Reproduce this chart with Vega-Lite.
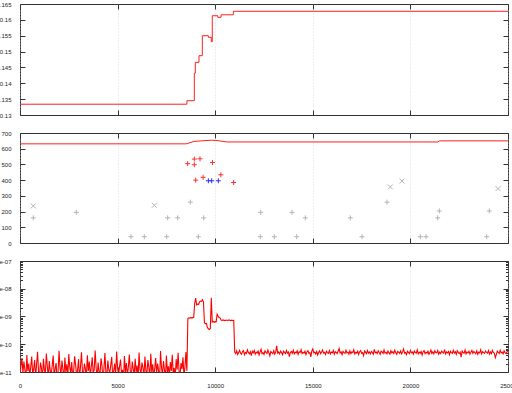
{
"$schema": "https://vega.github.io/schema/vega-lite/v6.json",
"padding": {"left": -5, "top": 0, "right": 0, "bottom": 0},
"background": "white",
"spacing": 10,
"config": {
  "view": {"stroke": "#333", "strokeWidth": 1},
  "axis": {"labelFont": "Liberation Sans", "labelFontSize": 6, "labelColor": "#222", "domain": false, "tickColor": "#333", "tickWidth": 1, "title": null, "labelOverlap": false, "labelFlush": false, "grid": false}
},
"datasets": {
  "p1": [
    {"x":0,"y":0.1334},{"x":8550,"y":0.1345},{"x":8930,"y":0.1432},{"x":8980,"y":0.1466},{"x":9170,"y":0.1487},{"x":9340,"y":0.1550},{"x":9650,"y":0.1545},{"x":9800,"y":0.1531},{"x":9850,"y":0.1613},{"x":10130,"y":0.1608},{"x":10300,"y":0.1616},{"x":10930,"y":0.1627},{"x":25000,"y":0.1627}
  ],
  "p2": [
    {"x":0,"y":631},{"x":8500,"y":631},{"x":8600,"y":634},{"x":8900,"y":646},{"x":9300,"y":650},{"x":9800,"y":654},{"x":10100,"y":652},{"x":10600,"y":643},{"x":21400,"y":643},{"x":21500,"y":650},{"x":25000,"y":650}
  ],
  "pts": [
    {"x":681,"y":160,"k":"g+"},{"x":2885,"y":195,"k":"g+"},{"x":5686,"y":40,"k":"g+"},{"x":6369,"y":40,"k":"g+"},{"x":7514,"y":40,"k":"g+"},{"x":7566,"y":160,"k":"g+"},{"x":8078,"y":160,"k":"g+"},{"x":8725,"y":260,"k":"g+"},{"x":9135,"y":40,"k":"g+"},{"x":9410,"y":160,"k":"g+"},{"x":12310,"y":40,"k":"g+"},{"x":12330,"y":195,"k":"g+"},{"x":13028,"y":40,"k":"g+"},{"x":13934,"y":195,"k":"g+"},{"x":14174,"y":40,"k":"g+"},{"x":14616,"y":160,"k":"g+"},{"x":16921,"y":160,"k":"g+"},{"x":17520,"y":40,"k":"g+"},{"x":18801,"y":260,"k":"g+"},{"x":20508,"y":40,"k":"g+"},{"x":20799,"y":40,"k":"g+"},{"x":21397,"y":160,"k":"g+"},{"x":21480,"y":204,"k":"g+"},{"x":23908,"y":40,"k":"g+"},{"x":24042,"y":204,"k":"g+"},
    {"x":681,"y":236,"k":"gx"},{"x":6880,"y":240,"k":"gx"},{"x":18972,"y":357,"k":"gx"},{"x":19570,"y":395,"k":"gx"},{"x":24488,"y":346,"k":"gx"},
    {"x":8590,"y":505,"k":"r"},{"x":8930,"y":534,"k":"r"},{"x":8930,"y":498,"k":"r"},{"x":9220,"y":536,"k":"r"},{"x":9000,"y":400,"k":"r"},{"x":9380,"y":418,"k":"r"},{"x":9860,"y":512,"k":"r"},{"x":10290,"y":434,"k":"r"},{"x":10945,"y":385,"k":"r"},
    {"x":9650,"y":396,"k":"b"},{"x":9820,"y":396,"k":"b"},{"x":10160,"y":396,"k":"b"}
  ],
  "p3": [
    {"x":0,"y":0.6e-11},{"x":50,"y":1.8e-11},{"x":100,"y":3.2e-11},{"x":150,"y":0.9e-11},{"x":200,"y":2.4e-11},{"x":250,"y":1.2e-11},{"x":300,"y":0.5e-11},{"x":350,"y":4.1e-11},{"x":400,"y":1.1e-11},{"x":450,"y":2.0e-11},
    {"x":500,"y":0.7e-11},{"x":550,"y":1.5e-11},{"x":600,"y":3.6e-11},{"x":650,"y":0.8e-11},{"x":700,"y":1.3e-11},{"x":750,"y":2.7e-11},{"x":800,"y":0.6e-11},{"x":850,"y":1.9e-11},{"x":900,"y":5.3e-11},{"x":950,"y":1.0e-11},
    {"x":1000,"y":0.7e-11},{"x":1050,"y":2.2e-11},{"x":1100,"y":1.4e-11},{"x":1150,"y":0.5e-11},{"x":1200,"y":3.0e-11},{"x":1250,"y":1.2e-11},{"x":1300,"y":0.9e-11},{"x":1350,"y":4.6e-11},{"x":1400,"y":1.6e-11},{"x":1450,"y":0.6e-11},
    {"x":1500,"y":2.5e-11},{"x":1550,"y":1.1e-11},{"x":1600,"y":0.8e-11},{"x":1650,"y":1.7e-11},{"x":1700,"y":3.9e-11},{"x":1750,"y":0.7e-11},{"x":1800,"y":1.3e-11},{"x":1850,"y":2.1e-11},{"x":1900,"y":0.5e-11},{"x":1950,"y":1.0e-11},
    {"x":2000,"y":5.8e-11},{"x":2050,"y":1.4e-11},{"x":2100,"y":0.8e-11},{"x":2150,"y":2.6e-11},{"x":2200,"y":1.2e-11},{"x":2250,"y":0.6e-11},{"x":2300,"y":3.3e-11},{"x":2350,"y":1.0e-11},{"x":2400,"y":1.9e-11},{"x":2450,"y":0.7e-11},
    {"x":2500,"y":4.4e-11},{"x":2550,"y":1.5e-11},{"x":2600,"y":0.9e-11},{"x":2650,"y":2.3e-11},{"x":2700,"y":0.6e-11},{"x":2750,"y":1.1e-11},{"x":2800,"y":3.7e-11},{"x":2850,"y":1.8e-11},{"x":2900,"y":0.7e-11},{"x":2950,"y":1.2e-11},
    {"x":3000,"y":2.9e-11},{"x":3050,"y":0.5e-11},{"x":3100,"y":1.6e-11},{"x":3150,"y":5.1e-11},{"x":3200,"y":1.0e-11},{"x":3250,"y":0.8e-11},{"x":3300,"y":2.0e-11},{"x":3350,"y":1.3e-11},{"x":3400,"y":0.6e-11},{"x":3450,"y":4.0e-11},
    {"x":3500,"y":1.1e-11},{"x":3550,"y":2.4e-11},{"x":3600,"y":0.7e-11},{"x":3650,"y":1.5e-11},{"x":3700,"y":3.4e-11},{"x":3750,"y":0.9e-11},{"x":3800,"y":1.2e-11},{"x":3850,"y":6.0e-11},{"x":3900,"y":1.4e-11},{"x":3950,"y":0.6e-11},
    {"x":4000,"y":2.2e-11},{"x":4050,"y":1.0e-11},{"x":4100,"y":0.8e-11},{"x":4150,"y":3.1e-11},{"x":4200,"y":1.7e-11},{"x":4250,"y":0.5e-11},{"x":4300,"y":1.3e-11},{"x":4350,"y":4.8e-11},{"x":4400,"y":1.0e-11},{"x":4450,"y":0.7e-11},
    {"x":4500,"y":2.6e-11},{"x":4550,"y":1.2e-11},{"x":4600,"y":0.9e-11},{"x":4650,"y":1.8e-11},{"x":4700,"y":3.5e-11},{"x":4750,"y":0.6e-11},{"x":4800,"y":1.1e-11},{"x":4850,"y":2.0e-11},{"x":4900,"y":0.8e-11},{"x":4950,"y":5.5e-11},
    {"x":5000,"y":1.4e-11},{"x":5050,"y":0.7e-11},{"x":5100,"y":1.6e-11},{"x":5150,"y":2.8e-11},{"x":5200,"y":0.9e-11},{"x":5250,"y":1.2e-11},{"x":5300,"y":0.5e-11},{"x":5350,"y":3.8e-11},{"x":5400,"y":1.0e-11},{"x":5450,"y":2.1e-11},
    {"x":5500,"y":0.7e-11},{"x":5550,"y":1.5e-11},{"x":5600,"y":4.3e-11},{"x":5650,"y":1.1e-11},{"x":5700,"y":0.6e-11},{"x":5750,"y":2.4e-11},{"x":5800,"y":1.3e-11},{"x":5850,"y":0.8e-11},{"x":5900,"y":3.0e-11},{"x":5950,"y":1.0e-11},
    {"x":6000,"y":1.7e-11},{"x":6050,"y":0.6e-11},{"x":6100,"y":5.0e-11},{"x":6150,"y":1.2e-11},{"x":6200,"y":0.9e-11},{"x":6250,"y":2.2e-11},{"x":6300,"y":1.4e-11},{"x":6350,"y":0.7e-11},{"x":6400,"y":3.6e-11},{"x":6450,"y":1.1e-11},
    {"x":6500,"y":0.8e-11},{"x":6550,"y":2.7e-11},{"x":6600,"y":1.5e-11},{"x":6650,"y":0.6e-11},{"x":6700,"y":4.5e-11},{"x":6750,"y":1.0e-11},{"x":6800,"y":1.9e-11},{"x":6850,"y":0.7e-11},{"x":6900,"y":1.3e-11},{"x":6950,"y":3.2e-11},
    {"x":7000,"y":0.9e-11},{"x":7050,"y":2.0e-11},{"x":7100,"y":1.1e-11},{"x":7150,"y":0.5e-11},{"x":7200,"y":5.7e-11},{"x":7250,"y":1.4e-11},{"x":7300,"y":0.8e-11},{"x":7350,"y":2.5e-11},{"x":7400,"y":1.2e-11},{"x":7450,"y":0.6e-11},
    {"x":7500,"y":3.9e-11},{"x":7550,"y":1.0e-11},{"x":7600,"y":1.6e-11},{"x":7650,"y":0.7e-11},{"x":7700,"y":2.3e-11},{"x":7750,"y":1.1e-11},{"x":7800,"y":4.2e-11},{"x":7850,"y":0.9e-11},{"x":7900,"y":1.4e-11},{"x":7950,"y":0.6e-11},
    {"x":8000,"y":2.9e-11},{"x":8050,"y":1.2e-11},{"x":8100,"y":4.9e-11},{"x":8150,"y":1.0e-11},{"x":8200,"y":0.8e-11},{"x":8250,"y":2.1e-11},{"x":8300,"y":1.3e-11},{"x":8350,"y":3.4e-11},{"x":8400,"y":0.7e-11},{"x":8450,"y":1.5e-11},
    {"x":8500,"y":5.2e-11},{"x":8550,"y":1.1e-11},
    {"x":8600,"y":8.5e-10},{"x":8650,"y":9.0e-10},{"x":8700,"y":8.7e-10},{"x":8750,"y":9.2e-10},{"x":8800,"y":8.8e-10},{"x":8850,"y":9.1e-10},{"x":8900,"y":9.3e-10},{"x":8950,"y":3.0e-9},{"x":9000,"y":4.6e-9},{"x":9050,"y":2.6e-9},
    {"x":9100,"y":2.8e-9},{"x":9150,"y":2.7e-9},{"x":9200,"y":3.4e-9},{"x":9250,"y":3.6e-9},{"x":9300,"y":3.5e-9},{"x":9350,"y":4.0e-9},{"x":9400,"y":3.3e-9},{"x":9450,"y":5.8e-10},{"x":9500,"y":5.5e-10},{"x":9550,"y":5.7e-10},
    {"x":9600,"y":4.0e-10},{"x":9650,"y":3.6e-10},{"x":9700,"y":3.4e-10},{"x":9750,"y":3.7e-10},{"x":9800,"y":4.7e-9},{"x":9850,"y":6.3e-10},{"x":9900,"y":6.6e-10},{"x":9950,"y":6.2e-10},{"x":10000,"y":6.5e-10},{"x":10050,"y":6.4e-10},
    {"x":10100,"y":1.2e-9},{"x":10150,"y":1.0e-9},{"x":10200,"y":9.2e-10},{"x":10250,"y":8.9e-10},{"x":10300,"y":7.4e-10},{"x":10350,"y":7.2e-10},{"x":10400,"y":7.5e-10},{"x":10450,"y":7.3e-10},{"x":10500,"y":7.1e-10},{"x":10550,"y":7.4e-10},
    {"x":10600,"y":7.3e-10},{"x":10650,"y":7.2e-10},{"x":10700,"y":7.5e-10},{"x":10750,"y":7.3e-10},{"x":10800,"y":7.1e-10},{"x":10850,"y":7.4e-10},{"x":10900,"y":7.2e-10},{"x":10950,"y":7.3e-10},
    {"x":11000,"y":5.2e-11},{"x":11050,"y":4.6e-11},{"x":11100,"y":5.8e-11},{"x":11150,"y":4.3e-11},{"x":11200,"y":5.0e-11},{"x":11250,"y":6.1e-11},{"x":11300,"y":4.8e-11},{"x":11350,"y":4.4e-11},{"x":11400,"y":5.5e-11},{"x":11450,"y":5.9e-11},
    {"x":11500,"y":4.2e-11},{"x":11550,"y":5.1e-11},{"x":11600,"y":4.7e-11},{"x":11650,"y":6.3e-11},{"x":11700,"y":5.0e-11},{"x":11750,"y":4.5e-11},{"x":11800,"y":5.4e-11},{"x":11850,"y":3.9e-11},{"x":11900,"y":5.6e-11},{"x":11950,"y":4.9e-11},
    {"x":12000,"y":6.0e-11},{"x":12050,"y":4.4e-11},{"x":12100,"y":5.2e-11},{"x":12150,"y":4.8e-11},{"x":12200,"y":5.7e-11},{"x":12250,"y":4.1e-11},{"x":12300,"y":5.3e-11},{"x":12350,"y":6.6e-11},{"x":12400,"y":4.6e-11},{"x":12450,"y":5.0e-11},
    {"x":12500,"y":4.3e-11},{"x":12550,"y":5.8e-11},{"x":12600,"y":5.1e-11},{"x":12650,"y":4.7e-11},{"x":12700,"y":6.2e-11},{"x":12750,"y":4.9e-11},{"x":12800,"y":3.8e-11},{"x":12850,"y":5.5e-11},{"x":12900,"y":5.0e-11},{"x":12950,"y":4.6e-11},
    {"x":13000,"y":5.9e-11},{"x":13050,"y":4.4e-11},{"x":13100,"y":5.2e-11},{"x":13150,"y":8.8e-11},{"x":13200,"y":4.8e-11},{"x":13250,"y":5.3e-11},{"x":13300,"y":4.5e-11},{"x":13350,"y":5.7e-11},{"x":13400,"y":4.9e-11},{"x":13450,"y":4.2e-11},
    {"x":13500,"y":5.6e-11},{"x":13550,"y":5.1e-11},{"x":13600,"y":4.6e-11},{"x":13650,"y":6.0e-11},{"x":13700,"y":4.8e-11},{"x":13750,"y":5.3e-11},{"x":13800,"y":3.6e-11},{"x":13850,"y":5.0e-11},{"x":13900,"y":5.5e-11},{"x":13950,"y":4.7e-11},
    {"x":14000,"y":6.1e-11},{"x":14050,"y":4.5e-11},{"x":14100,"y":5.2e-11},{"x":14150,"y":4.9e-11},{"x":14200,"y":5.8e-11},{"x":14250,"y":4.3e-11},{"x":14300,"y":5.4e-11},{"x":14350,"y":5.0e-11},{"x":14400,"y":6.4e-11},{"x":14450,"y":4.6e-11},
    {"x":14500,"y":5.1e-11},{"x":14550,"y":4.8e-11},{"x":14600,"y":5.6e-11},{"x":14650,"y":4.2e-11},{"x":14700,"y":5.3e-11},{"x":14750,"y":5.9e-11},{"x":14800,"y":4.7e-11},{"x":14850,"y":5.0e-11},{"x":14900,"y":3.5e-11},{"x":14950,"y":5.7e-11},
    {"x":15000,"y":6.8e-11},{"x":15050,"y":4.9e-11},{"x":15100,"y":5.2e-11},{"x":15150,"y":4.5e-11},{"x":15200,"y":5.5e-11},{"x":15250,"y":4.1e-11},{"x":15300,"y":5.0e-11},{"x":15350,"y":5.8e-11},{"x":15400,"y":4.6e-11},{"x":15450,"y":5.3e-11},
    {"x":15500,"y":6.2e-11},{"x":15550,"y":4.8e-11},{"x":15600,"y":5.1e-11},{"x":15650,"y":4.3e-11},{"x":15700,"y":5.6e-11},{"x":15750,"y":5.0e-11},{"x":15800,"y":4.7e-11},{"x":15850,"y":5.9e-11},{"x":15900,"y":4.5e-11},{"x":15950,"y":5.2e-11},
    {"x":16000,"y":4.9e-11},{"x":16050,"y":6.0e-11},{"x":16100,"y":4.4e-11},{"x":16150,"y":5.4e-11},{"x":16200,"y":5.1e-11},{"x":16250,"y":4.6e-11},{"x":16300,"y":5.7e-11},{"x":16350,"y":7.1e-11},{"x":16400,"y":4.8e-11},{"x":16450,"y":5.3e-11},
    {"x":16500,"y":4.2e-11},{"x":16550,"y":5.5e-11},{"x":16600,"y":5.0e-11},{"x":16650,"y":4.7e-11},{"x":16700,"y":6.1e-11},{"x":16750,"y":4.9e-11},{"x":16800,"y":5.2e-11},{"x":16850,"y":4.4e-11},{"x":16900,"y":5.8e-11},{"x":16950,"y":4.6e-11},
    {"x":17000,"y":5.3e-11},{"x":17050,"y":5.0e-11},{"x":17100,"y":6.3e-11},{"x":17150,"y":4.5e-11},{"x":17200,"y":5.1e-11},{"x":17250,"y":4.8e-11},{"x":17300,"y":5.6e-11},{"x":17350,"y":4.3e-11},{"x":17400,"y":5.4e-11},{"x":17450,"y":5.9e-11},
    {"x":17500,"y":4.7e-11},{"x":17550,"y":5.0e-11},{"x":17600,"y":3.9e-11},{"x":17650,"y":5.7e-11},{"x":17700,"y":5.2e-11},{"x":17750,"y":4.6e-11},{"x":17800,"y":6.0e-11},{"x":17850,"y":4.8e-11},{"x":17900,"y":5.3e-11},{"x":17950,"y":4.5e-11},
    {"x":18000,"y":5.5e-11},{"x":18050,"y":5.1e-11},{"x":18100,"y":4.4e-11},{"x":18150,"y":6.5e-11},{"x":18200,"y":4.9e-11},{"x":18250,"y":5.2e-11},{"x":18300,"y":4.6e-11},{"x":18350,"y":5.8e-11},{"x":18400,"y":5.0e-11},{"x":18450,"y":4.3e-11},
    {"x":18500,"y":5.6e-11},{"x":18550,"y":5.3e-11},{"x":18600,"y":4.7e-11},{"x":18650,"y":6.2e-11},{"x":18700,"y":4.8e-11},{"x":18750,"y":5.1e-11},{"x":18800,"y":4.5e-11},{"x":18850,"y":5.7e-11},{"x":18900,"y":5.0e-11},{"x":18950,"y":4.4e-11},
    {"x":19000,"y":5.9e-11},{"x":19050,"y":4.9e-11},{"x":19100,"y":5.4e-11},{"x":19150,"y":4.6e-11},{"x":19200,"y":6.1e-11},{"x":19250,"y":5.0e-11},{"x":19300,"y":4.3e-11},{"x":19350,"y":5.5e-11},{"x":19400,"y":5.2e-11},{"x":19450,"y":4.7e-11},
    {"x":19500,"y":5.8e-11},{"x":19550,"y":4.5e-11},{"x":19600,"y":5.3e-11},{"x":19650,"y":6.7e-11},{"x":19700,"y":4.8e-11},{"x":19750,"y":5.0e-11},{"x":19800,"y":4.2e-11},{"x":19850,"y":5.6e-11},{"x":19900,"y":5.1e-11},{"x":19950,"y":4.6e-11},
    {"x":20000,"y":6.0e-11},{"x":20050,"y":4.9e-11},{"x":20100,"y":5.3e-11},{"x":20150,"y":4.4e-11},{"x":20200,"y":5.7e-11},{"x":20250,"y":5.0e-11},{"x":20300,"y":4.8e-11},{"x":20350,"y":6.3e-11},{"x":20400,"y":4.5e-11},{"x":20450,"y":5.2e-11},
    {"x":20500,"y":4.7e-11},{"x":20550,"y":5.5e-11},{"x":20600,"y":4.1e-11},{"x":20650,"y":5.4e-11},{"x":20700,"y":5.9e-11},{"x":20750,"y":4.6e-11},{"x":20800,"y":5.1e-11},{"x":20850,"y":4.8e-11},{"x":20900,"y":5.6e-11},{"x":20950,"y":4.3e-11},
    {"x":21000,"y":5.0e-11},{"x":21050,"y":6.2e-11},{"x":21100,"y":4.7e-11},{"x":21150,"y":5.3e-11},{"x":21200,"y":4.5e-11},{"x":21250,"y":5.8e-11},{"x":21300,"y":5.0e-11},{"x":21350,"y":4.9e-11},{"x":21400,"y":6.0e-11},{"x":21450,"y":4.4e-11},
    {"x":21500,"y":5.2e-11},{"x":21550,"y":4.6e-11},{"x":21600,"y":5.7e-11},{"x":21650,"y":5.1e-11},{"x":21700,"y":4.8e-11},{"x":21750,"y":6.4e-11},{"x":21800,"y":4.5e-11},{"x":21850,"y":5.3e-11},{"x":21900,"y":4.9e-11},{"x":21950,"y":5.5e-11},
    {"x":22000,"y":4.2e-11},{"x":22050,"y":5.6e-11},{"x":22100,"y":5.0e-11},{"x":22150,"y":4.7e-11},{"x":22200,"y":6.1e-11},{"x":22250,"y":4.8e-11},{"x":22300,"y":5.4e-11},{"x":22350,"y":4.3e-11},{"x":22400,"y":5.9e-11},{"x":22450,"y":5.1e-11},
    {"x":22500,"y":4.6e-11},{"x":22550,"y":5.2e-11},{"x":22600,"y":3.4e-11},{"x":22650,"y":5.7e-11},{"x":22700,"y":5.0e-11},{"x":22750,"y":4.8e-11},{"x":22800,"y":6.2e-11},{"x":22850,"y":4.5e-11},{"x":22900,"y":5.3e-11},{"x":22950,"y":4.9e-11},
    {"x":23000,"y":5.6e-11},{"x":23050,"y":4.4e-11},{"x":23100,"y":5.1e-11},{"x":23150,"y":6.0e-11},{"x":23200,"y":4.7e-11},{"x":23250,"y":5.5e-11},{"x":23300,"y":5.0e-11},{"x":23350,"y":4.6e-11},{"x":23400,"y":5.8e-11},{"x":23450,"y":4.3e-11},
    {"x":23500,"y":5.2e-11},{"x":23550,"y":4.9e-11},{"x":23600,"y":6.3e-11},{"x":23650,"y":4.5e-11},{"x":23700,"y":5.4e-11},{"x":23750,"y":5.0e-11},{"x":23800,"y":4.7e-11},{"x":23850,"y":5.7e-11},{"x":23900,"y":5.1e-11},{"x":23950,"y":4.8e-11},
    {"x":24000,"y":5.9e-11},{"x":24050,"y":4.4e-11},{"x":24100,"y":5.3e-11},{"x":24150,"y":4.6e-11},{"x":24200,"y":6.0e-11},{"x":24250,"y":5.0e-11},{"x":24300,"y":4.8e-11},{"x":24350,"y":3.3e-11},{"x":24400,"y":4.2e-11},{"x":24450,"y":5.6e-11},
    {"x":24500,"y":5.1e-11},{"x":24550,"y":4.7e-11},{"x":24600,"y":6.1e-11},{"x":24650,"y":4.9e-11},{"x":24700,"y":5.2e-11},{"x":24750,"y":4.5e-11},{"x":24800,"y":5.8e-11},{"x":24850,"y":5.0e-11},{"x":24900,"y":4.6e-11},{"x":24950,"y":5.3e-11},
    {"x":25000,"y":5.7e-11}
  ]
},
"vconcat": [
  {
    "width": 488, "height": 111,
    "data": {"name": "p1"},
    "layer": [
      {
        "mark": {"type": "line", "interpolate": "step-after", "color": "#ff2020", "strokeWidth": 1, "clip": true},
        "encoding": {
          "x": {"field": "x", "type": "quantitative", "scale": {"domain": [0, 25000], "nice": false}, "axis": {"orient": "bottom", "values": [0, 5000, 10000, 15000, 20000, 25000], "labels": false, "tickSize": -5, "grid": true, "gridDash": [1, 2], "gridColor": "#c8c8c8", "gridWidth": 0.6}},
          "y": {"field": "y", "type": "quantitative", "scale": {"domain": [0.13, 0.165], "nice": false, "zero": false}, "axis": {"orient": "left", "values": [0.13, 0.135, 0.14, 0.145, 0.15, 0.155, 0.16, 0.165], "format": ".3~f", "tickSize": -5, "labelPadding": 14}}
        }
      },
      {
        "mark": {"type": "point", "opacity": 0, "clip": true},
        "encoding": {
          "x": {"field": "x", "type": "quantitative", "scale": {"domain": [0, 25000], "nice": false}, "axis": {"orient": "top", "values": [0, 5000, 10000, 15000, 20000, 25000], "labels": false, "tickSize": -5}},
          "y": {"field": "y", "type": "quantitative", "scale": {"domain": [0.13, 0.165], "nice": false, "zero": false}, "axis": {"orient": "right", "values": [0.13, 0.135, 0.14, 0.145, 0.15, 0.155, 0.16, 0.165], "labels": false, "tickSize": -5}}
        }
      }
    ],
    "resolve": {"axis": {"x": "independent", "y": "independent"}}
  },
  {
    "width": 488, "height": 110,
    "layer": [
      {
        "data": {"name": "p2"},
        "mark": {"type": "line", "color": "#ff2020", "strokeWidth": 1, "clip": true},
        "encoding": {
          "x": {"field": "x", "type": "quantitative", "scale": {"domain": [0, 25000], "nice": false}, "axis": {"orient": "bottom", "values": [0, 5000, 10000, 15000, 20000, 25000], "labels": false, "tickSize": -5, "grid": true, "gridDash": [1, 2], "gridColor": "#c8c8c8", "gridWidth": 0.6}},
          "y": {"field": "y", "type": "quantitative", "scale": {"domain": [0, 700], "nice": false}, "axis": {"orient": "left", "values": [0, 100, 200, 300, 400, 500, 600, 700], "format": "d", "tickSize": -5, "labelPadding": 14}}
        }
      },
      {
        "data": {"name": "pts"},
        "mark": {"type": "point", "filled": false, "strokeWidth": 1, "size": 25, "opacity": 1, "clip": true},
        "encoding": {
          "x": {"field": "x", "type": "quantitative", "scale": {"domain": [0, 25000], "nice": false}, "axis": {"orient": "top", "values": [0, 5000, 10000, 15000, 20000, 25000], "labels": false, "tickSize": -5}},
          "y": {"field": "y", "type": "quantitative", "scale": {"domain": [0, 700], "nice": false}, "axis": {"orient": "right", "values": [0, 100, 200, 300, 400, 500, 600, 700], "labels": false, "tickSize": -5}},
          "color": {"field": "k", "type": "nominal", "scale": {"domain": ["g+", "gx", "r", "b"], "range": ["#b4b4b4", "#b4b4b4", "#ff3030", "#3030ff"]}, "legend": null},
          "shape": {"field": "k", "type": "nominal", "scale": {"domain": ["g+", "gx", "r", "b"], "range": ["M-1,0L1,0M0,-1L0,1", "M-1,-1L1,1M-1,1L1,-1", "M-1,0L1,0M0,-1L0,1", "M-1,0L1,0M0,-1L0,1"]}, "legend": null}
        }
      }
    ],
    "resolve": {"axis": {"x": "independent", "y": "independent"}}
  },
  {
    "width": 488, "height": 111,
    "data": {"name": "p3"},
    "layer": [
      {
        "mark": {"type": "line", "color": "#ff0000", "strokeWidth": 1.1, "clip": true},
        "encoding": {
          "x": {"field": "x", "type": "quantitative", "scale": {"domain": [0, 25000], "nice": false}, "axis": {"orient": "bottom", "values": [0, 5000, 10000, 15000, 20000, 25000], "format": "d", "tickSize": -5, "labelPadding": 15, "labelFlush": false, "grid": true, "gridDash": [1, 2], "gridColor": "#c8c8c8", "gridWidth": 0.6}},
          "y": {"field": "y", "type": "quantitative", "scale": {"type": "log", "domain": [1e-11, 1e-7], "nice": false}, "axis": {"orient": "left", "values": [1e-11, 1e-10, 1e-9, 1e-8, 1e-7], "labelExpr": "'1e-' + pad(toString(round(-log(datum.value)/LN10)), 2, '0', 'left')", "tickSize": -5, "labelPadding": 14}}
        }
      },
      {
        "mark": {"type": "point", "opacity": 0, "clip": true},
        "encoding": {
          "x": {"field": "x", "type": "quantitative", "scale": {"domain": [0, 25000], "nice": false}, "axis": {"orient": "top", "values": [0, 5000, 10000, 15000, 20000, 25000], "labels": false, "tickSize": -5}},
          "y": {"field": "y", "type": "quantitative", "scale": {"type": "log", "domain": [1e-11, 1e-7], "nice": false}, "axis": {"orient": "right", "values": [1e-11, 1e-10, 1e-9, 1e-8, 1e-7], "labels": false, "tickSize": -5}}
        }
      },
      {
        "mark": {"type": "point", "opacity": 0, "clip": true},
        "encoding": {
          "x": {"field": "x", "type": "quantitative", "scale": {"domain": [0, 25000], "nice": false}, "axis": null},
          "y": {"field": "y", "type": "quantitative", "scale": {"type": "log", "domain": [1e-11, 1e-7], "nice": false}, "axis": {"orient": "left", "values": [2e-11, 3e-11, 4e-11, 5e-11, 6e-11, 7e-11, 8e-11, 9e-11, 2e-10, 3e-10, 4e-10, 5e-10, 6e-10, 7e-10, 8e-10, 9e-10, 2e-9, 3e-9, 4e-9, 5e-9, 6e-9, 7e-9, 8e-9, 9e-9, 2e-8, 3e-8, 4e-8, 5e-8, 6e-8, 7e-8, 8e-8, 9e-8], "labels": false, "tickSize": -2.5}}
        }
      },
      {
        "mark": {"type": "point", "opacity": 0, "clip": true},
        "encoding": {
          "x": {"field": "x", "type": "quantitative", "scale": {"domain": [0, 25000], "nice": false}, "axis": null},
          "y": {"field": "y", "type": "quantitative", "scale": {"type": "log", "domain": [1e-11, 1e-7], "nice": false}, "axis": {"orient": "right", "values": [2e-11, 3e-11, 4e-11, 5e-11, 6e-11, 7e-11, 8e-11, 9e-11, 2e-10, 3e-10, 4e-10, 5e-10, 6e-10, 7e-10, 8e-10, 9e-10, 2e-9, 3e-9, 4e-9, 5e-9, 6e-9, 7e-9, 8e-9, 9e-9, 2e-8, 3e-8, 4e-8, 5e-8, 6e-8, 7e-8, 8e-8, 9e-8], "labels": false, "tickSize": -2.5}}
        }
      }
    ],
    "resolve": {"axis": {"x": "independent", "y": "independent"}}
  }
]
}
